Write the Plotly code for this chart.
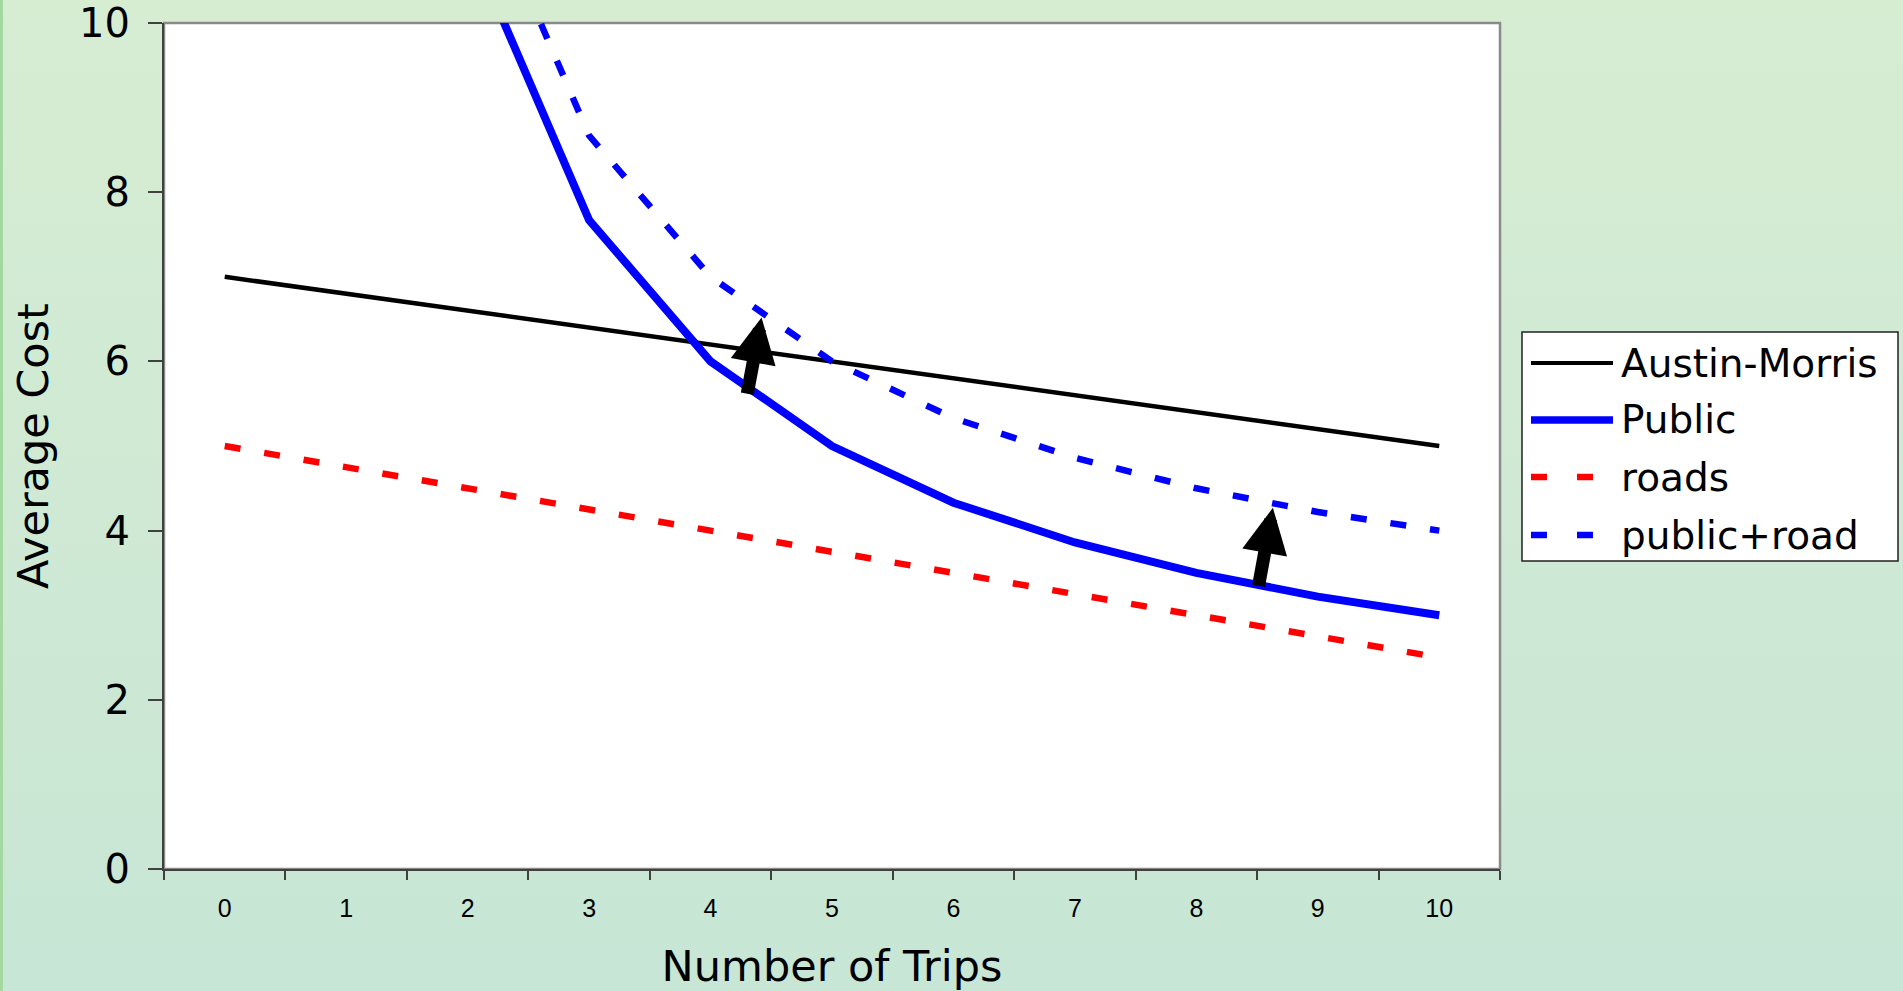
import base64
import plotly.graph_objects as go

# ---------------- data ----------------
trips = ["0", "1", "2", "3", "4", "5", "6", "7", "8", "9", "10"]
austin_morris = [7.0, 6.8, 6.6, 6.4, 6.2, 6.0, 5.8, 5.6, 5.4, 5.2, 5.0]
public = [None, 21.0, 11.0, 7.67, 6.0, 5.0, 4.33, 3.86, 3.5, 3.22, 3.0]
roads = [5.0, 4.75, 4.5, 4.25, 4.0, 3.75, 3.5, 3.25, 3.0, 2.75, 2.5]
public_road = [None, 22.0, 12.0, 8.67, 7.0, 6.0, 5.33, 4.86, 4.5, 4.22, 4.0]
y_ticks = [0, 2, 4, 6, 8, 10]

series_names = ["Austin-Morris", "Public", "roads", "public+road"]
series_values = [austin_morris, public, roads, public_road]

# arrows (data units: category index, value)
arrow_tail_x = [4.30, 8.51]
arrow_tail_y = [5.60, 3.33]
arrow_tip_x = [4.42, 8.63]
arrow_tip_y = [6.52, 4.27]

# ---------------- styles ----------------
colors = ["#000000", "#0000FF", "#FF0000", "#0000FF"]
widths = [4.5, 8, 6.5, 6.5]
dashes = ["solid", "solid", "16px,24px", "16px,24px"]

W, H = 1903, 991
ML, MR, MT, MB = 164, 403, 23, 122
PW, PH = W - ML - MR, H - MT - MB


def px_x(px):
    return (px - ML) / PW


def px_y(py):
    return (H - MB - py) / PH


fig = go.Figure()
for name, vals, c, w, d in zip(series_names, series_values, colors, widths, dashes):
    fig.add_trace(go.Scatter(
        x=trips, y=vals, name=name, mode="lines",
        line=dict(color=c, width=w, dash=d),
        showlegend=False, connectgaps=False,
    ))

annotations = []
for tx, ty, hx, hy in zip(arrow_tail_x, arrow_tail_y, arrow_tip_x, arrow_tip_y):
    annotations.append(dict(
        x=hx, y=hy, ax=tx, ay=ty, xref="x", yref="y", axref="x", ayref="y",
        text="", showarrow=True, arrowhead=2, arrowsize=0.7, arrowwidth=13,
        arrowcolor="#000000",
    ))

shapes = []
# plot area (white) with gray border
shapes.append(dict(type="rect", xref="paper", yref="paper", x0=0, y0=0, x1=1, y1=1,
                   fillcolor="#ffffff", line=dict(color="#8a8a8a", width=2.5), layer="below"))

# custom legend
leg_x0, leg_x1 = px_x(1522), px_x(1898)
leg_y0, leg_y1 = px_y(561), px_y(332)
shapes.append(dict(type="rect", xref="paper", yref="paper", x0=leg_x0, x1=leg_x1,
                   y0=leg_y0, y1=leg_y1, fillcolor="white",
                   line=dict(color="#222222", width=1.5), layer="above"))
row_py = [363, 420, 477, 535]
for name, c, w, d, py in zip(series_names, colors, widths, dashes, row_py):
    yy = px_y(py)
    if d == "solid":
        shapes.append(dict(type="line", xref="paper", yref="paper",
                           x0=px_x(1531), x1=px_x(1613), y0=yy, y1=yy,
                           line=dict(color=c, width=w - 0.5), layer="above"))
    else:
        for sx in (1531, 1577):
            shapes.append(dict(type="line", xref="paper", yref="paper",
                               x0=px_x(sx), x1=px_x(sx + 16), y0=yy, y1=yy,
                               line=dict(color=c, width=w), layer="above"))
    annotations.append(dict(x=px_x(1619), y=yy, xref="paper", yref="paper",
                            text=name, showarrow=False, xanchor="left", yanchor="middle",
                            font=dict(family="DejaVu Sans", size=39, color="#000000")))

svg = (
    '<svg xmlns="http://www.w3.org/2000/svg" width="1903" height="991">'
    '<defs><linearGradient id="g" x1="0" y1="0" x2="0" y2="1">'
    '<stop offset="0" stop-color="#d7edd2"/><stop offset="0.5" stop-color="#cfe9d4"/>'
    '<stop offset="1" stop-color="#c7e6d5"/></linearGradient></defs>'
    '<rect width="1903" height="991" fill="url(#g)"/>'
    '<rect x="0" y="0" width="3" height="991" fill="#a3d8a0"/></svg>'
)
src = "data:image/svg+xml;base64," + base64.b64encode(svg.encode()).decode()

fig.update_layout(
    width=W, height=H,
    margin=dict(l=ML, r=MR, t=MT, b=MB, pad=0),
    paper_bgcolor="#cfe9d4",
    plot_bgcolor="#ffffff",
    showlegend=False,
    annotations=annotations,
    shapes=shapes,
    images=[dict(source=src, xref="paper", yref="paper", x=-ML / PW, y=1 + MT / PH,
                 sizex=W / PW, sizey=H / PH, xanchor="left", yanchor="top",
                 sizing="stretch", layer="below")],
    font=dict(family="DejaVu Sans", color="#000000"),
)

fig.update_xaxes(
    type="category", categoryorder="array", categoryarray=trips,
    range=[-0.5, len(trips) - 0.5],
    tickson="boundaries", ticks="outside", ticklen=9, tickwidth=1.5, tickcolor="#404040",
    showline=True, linecolor="#404040", linewidth=2, showgrid=False, zeroline=False,
    tickfont=dict(family="Liberation Sans", size=25, color="#000000"),
    ticklabelstandoff=16,
    title=dict(text="Number of Trips", font=dict(family="DejaVu Sans", size=43, color="#000000"),
               standoff=38),
    automargin=False, fixedrange=True,
)
fig.update_yaxes(
    range=[0, 10], tickmode="array", tickvals=y_ticks, ticktext=[str(v) for v in y_ticks],
    ticks="outside", ticklen=14, tickwidth=1.5, tickcolor="#404040",
    showline=True, linecolor="#404040", linewidth=2, showgrid=False, zeroline=False,
    tickfont=dict(family="DejaVu Sans", size=40, color="#000000"),
    ticklabelstandoff=10,
    title=dict(text="Average Cost", font=dict(family="DejaVu Sans", size=43, color="#000000"),
               standoff=17),
    automargin=False, fixedrange=True,
)

fig.write_html("out.html")
